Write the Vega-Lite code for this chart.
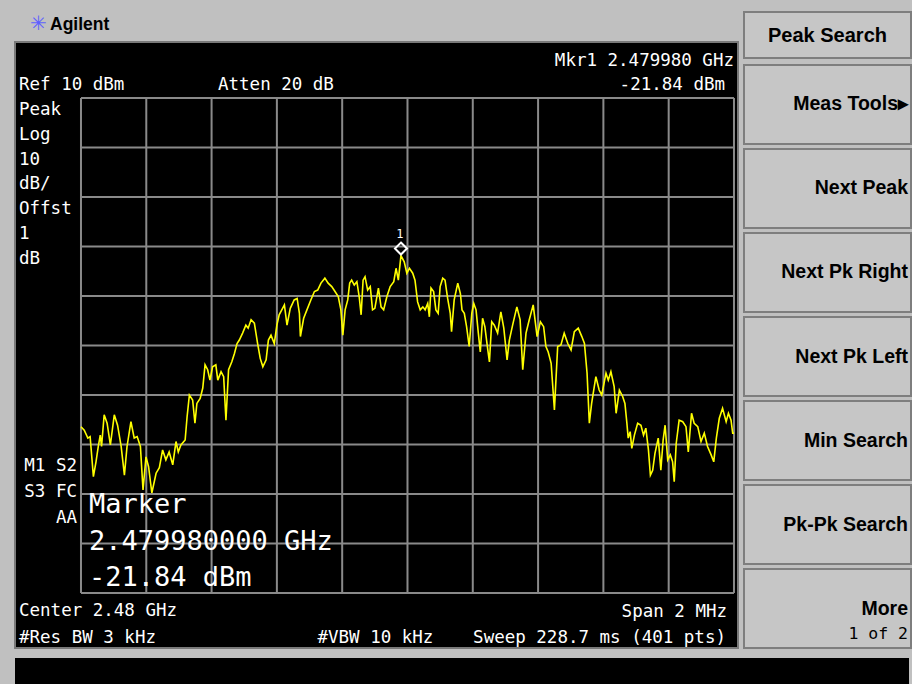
{
  "$schema": "https://vega.github.io/schema/vega-lite/v6.json",
  "background": "#c0c0c0",
  "padding": {"left": 14, "top": 11, "right": 0, "bottom": 0},
  "spacing": 9,
  "config": {"view": {"stroke": null}},
  "datasets": {
    "trace": [
      {"f": 2479.000, "dbm": -56.4}, {"f": 2479.010, "dbm": -57.1}, {"f": 2479.021, "dbm": -58.7}, {"f": 2479.028, "dbm": -58.4},
      {"f": 2479.038, "dbm": -66.5}, {"f": 2479.046, "dbm": -63.5}, {"f": 2479.053, "dbm": -60.4}, {"f": 2479.059, "dbm": -58.1},
      {"f": 2479.063, "dbm": -60.4}, {"f": 2479.071, "dbm": -54.0}, {"f": 2479.080, "dbm": -55.7}, {"f": 2479.090, "dbm": -60.1},
      {"f": 2479.102, "dbm": -54.0}, {"f": 2479.112, "dbm": -56.1}, {"f": 2479.123, "dbm": -60.4}, {"f": 2479.133, "dbm": -66.2},
      {"f": 2479.141, "dbm": -60.4}, {"f": 2479.153, "dbm": -55.4}, {"f": 2479.163, "dbm": -58.7}, {"f": 2479.172, "dbm": -58.4},
      {"f": 2479.182, "dbm": -60.4}, {"f": 2479.190, "dbm": -69.2}, {"f": 2479.199, "dbm": -62.5}, {"f": 2479.207, "dbm": -64.5},
      {"f": 2479.217, "dbm": -69.8}, {"f": 2479.230, "dbm": -65.8}, {"f": 2479.240, "dbm": -64.7}, {"f": 2479.250, "dbm": -61.1},
      {"f": 2479.260, "dbm": -63.1}, {"f": 2479.270, "dbm": -61.5}, {"f": 2479.281, "dbm": -64.1}, {"f": 2479.291, "dbm": -59.4},
      {"f": 2479.298, "dbm": -61.5}, {"f": 2479.306, "dbm": -60.1}, {"f": 2479.319, "dbm": -59.1}, {"f": 2479.325, "dbm": -54.4},
      {"f": 2479.332, "dbm": -50.0}, {"f": 2479.342, "dbm": -51.0}, {"f": 2479.349, "dbm": -55.7}, {"f": 2479.355, "dbm": -51.7},
      {"f": 2479.365, "dbm": -50.7}, {"f": 2479.373, "dbm": -48.6}, {"f": 2479.380, "dbm": -43.9}, {"f": 2479.388, "dbm": -44.9},
      {"f": 2479.395, "dbm": -47.0}, {"f": 2479.403, "dbm": -44.3}, {"f": 2479.413, "dbm": -43.9}, {"f": 2479.419, "dbm": -47.0},
      {"f": 2479.429, "dbm": -45.3}, {"f": 2479.437, "dbm": -46.3}, {"f": 2479.444, "dbm": -55.1}, {"f": 2479.452, "dbm": -44.9},
      {"f": 2479.462, "dbm": -43.3}, {"f": 2479.470, "dbm": -41.6}, {"f": 2479.478, "dbm": -39.6}, {"f": 2479.485, "dbm": -38.9},
      {"f": 2479.495, "dbm": -37.5}, {"f": 2479.505, "dbm": -35.9}, {"f": 2479.512, "dbm": -36.5}, {"f": 2479.521, "dbm": -34.8},
      {"f": 2479.531, "dbm": -35.5}, {"f": 2479.541, "dbm": -39.6}, {"f": 2479.549, "dbm": -42.6}, {"f": 2479.557, "dbm": -44.3},
      {"f": 2479.567, "dbm": -42.9}, {"f": 2479.574, "dbm": -38.9}, {"f": 2479.582, "dbm": -37.9}, {"f": 2479.592, "dbm": -39.6},
      {"f": 2479.600, "dbm": -35.9}, {"f": 2479.607, "dbm": -33.8}, {"f": 2479.615, "dbm": -32.8}, {"f": 2479.623, "dbm": -31.8},
      {"f": 2479.631, "dbm": -35.9}, {"f": 2479.641, "dbm": -32.5}, {"f": 2479.653, "dbm": -30.8}, {"f": 2479.662, "dbm": -30.5},
      {"f": 2479.669, "dbm": -33.5}, {"f": 2479.672, "dbm": -38.2}, {"f": 2479.682, "dbm": -34.5}, {"f": 2479.692, "dbm": -32.8},
      {"f": 2479.704, "dbm": -30.8}, {"f": 2479.715, "dbm": -29.1}, {"f": 2479.725, "dbm": -28.8}, {"f": 2479.735, "dbm": -27.4},
      {"f": 2479.747, "dbm": -26.4}, {"f": 2479.757, "dbm": -27.4}, {"f": 2479.768, "dbm": -28.1}, {"f": 2479.778, "dbm": -29.1},
      {"f": 2479.788, "dbm": -30.1}, {"f": 2479.796, "dbm": -32.8}, {"f": 2479.802, "dbm": -37.9}, {"f": 2479.809, "dbm": -32.8},
      {"f": 2479.817, "dbm": -30.8}, {"f": 2479.823, "dbm": -27.4}, {"f": 2479.829, "dbm": -26.8}, {"f": 2479.837, "dbm": -27.8},
      {"f": 2479.845, "dbm": -27.1}, {"f": 2479.852, "dbm": -30.1}, {"f": 2479.858, "dbm": -33.8}, {"f": 2479.864, "dbm": -26.8},
      {"f": 2479.870, "dbm": -26.1}, {"f": 2479.878, "dbm": -28.8}, {"f": 2479.886, "dbm": -28.1}, {"f": 2479.893, "dbm": -32.8},
      {"f": 2479.900, "dbm": -32.5}, {"f": 2479.911, "dbm": -28.4}, {"f": 2479.919, "dbm": -32.2}, {"f": 2479.927, "dbm": -32.8},
      {"f": 2479.937, "dbm": -30.1}, {"f": 2479.947, "dbm": -28.1}, {"f": 2479.958, "dbm": -27.1}, {"f": 2479.965, "dbm": -24.4},
      {"f": 2479.972, "dbm": -26.8}, {"f": 2479.980, "dbm": -21.84}, {"f": 2479.990, "dbm": -23.1}, {"f": 2479.998, "dbm": -25.4},
      {"f": 2480.006, "dbm": -24.4}, {"f": 2480.016, "dbm": -25.4}, {"f": 2480.023, "dbm": -26.8}, {"f": 2480.031, "dbm": -31.2},
      {"f": 2480.039, "dbm": -32.8}, {"f": 2480.047, "dbm": -32.2}, {"f": 2480.054, "dbm": -32.8}, {"f": 2480.062, "dbm": -31.5},
      {"f": 2480.067, "dbm": -34.2}, {"f": 2480.072, "dbm": -28.4}, {"f": 2480.080, "dbm": -29.1}, {"f": 2480.087, "dbm": -32.8},
      {"f": 2480.094, "dbm": -33.5}, {"f": 2480.100, "dbm": -28.1}, {"f": 2480.108, "dbm": -26.4}, {"f": 2480.115, "dbm": -26.8},
      {"f": 2480.123, "dbm": -30.5}, {"f": 2480.131, "dbm": -33.5}, {"f": 2480.135, "dbm": -37.2}, {"f": 2480.143, "dbm": -30.8},
      {"f": 2480.154, "dbm": -27.4}, {"f": 2480.162, "dbm": -29.5}, {"f": 2480.167, "dbm": -32.8}, {"f": 2480.174, "dbm": -33.5},
      {"f": 2480.181, "dbm": -36.2}, {"f": 2480.189, "dbm": -40.2}, {"f": 2480.197, "dbm": -33.5}, {"f": 2480.203, "dbm": -31.5},
      {"f": 2480.210, "dbm": -32.8}, {"f": 2480.217, "dbm": -37.5}, {"f": 2480.223, "dbm": -41.3}, {"f": 2480.230, "dbm": -34.5},
      {"f": 2480.237, "dbm": -36.2}, {"f": 2480.246, "dbm": -40.9}, {"f": 2480.251, "dbm": -43.3}, {"f": 2480.258, "dbm": -35.2},
      {"f": 2480.266, "dbm": -35.9}, {"f": 2480.276, "dbm": -37.5}, {"f": 2480.286, "dbm": -33.2}, {"f": 2480.295, "dbm": -36.5},
      {"f": 2480.305, "dbm": -42.9}, {"f": 2480.312, "dbm": -38.9}, {"f": 2480.322, "dbm": -35.9}, {"f": 2480.335, "dbm": -32.2},
      {"f": 2480.345, "dbm": -34.8}, {"f": 2480.353, "dbm": -44.9}, {"f": 2480.363, "dbm": -37.5}, {"f": 2480.373, "dbm": -34.8},
      {"f": 2480.385, "dbm": -31.8}, {"f": 2480.397, "dbm": -38.2}, {"f": 2480.407, "dbm": -35.2}, {"f": 2480.417, "dbm": -36.2},
      {"f": 2480.424, "dbm": -40.2}, {"f": 2480.431, "dbm": -41.3}, {"f": 2480.440, "dbm": -43.6}, {"f": 2480.450, "dbm": -53.0},
      {"f": 2480.460, "dbm": -40.2}, {"f": 2480.470, "dbm": -39.9}, {"f": 2480.480, "dbm": -37.5}, {"f": 2480.491, "dbm": -39.6},
      {"f": 2480.501, "dbm": -40.9}, {"f": 2480.511, "dbm": -37.2}, {"f": 2480.523, "dbm": -36.5}, {"f": 2480.534, "dbm": -38.2},
      {"f": 2480.542, "dbm": -39.6}, {"f": 2480.550, "dbm": -45.6}, {"f": 2480.557, "dbm": -55.7}, {"f": 2480.564, "dbm": -51.7},
      {"f": 2480.577, "dbm": -46.3}, {"f": 2480.587, "dbm": -49.0}, {"f": 2480.595, "dbm": -50.0}, {"f": 2480.608, "dbm": -45.6},
      {"f": 2480.615, "dbm": -47.0}, {"f": 2480.623, "dbm": -45.3}, {"f": 2480.633, "dbm": -48.3}, {"f": 2480.639, "dbm": -53.7},
      {"f": 2480.649, "dbm": -49.0}, {"f": 2480.659, "dbm": -50.3}, {"f": 2480.666, "dbm": -51.7}, {"f": 2480.672, "dbm": -55.7},
      {"f": 2480.676, "dbm": -58.7}, {"f": 2480.682, "dbm": -57.4}, {"f": 2480.687, "dbm": -60.8}, {"f": 2480.695, "dbm": -58.1},
      {"f": 2480.705, "dbm": -55.7}, {"f": 2480.715, "dbm": -56.1}, {"f": 2480.723, "dbm": -58.1}, {"f": 2480.730, "dbm": -56.7},
      {"f": 2480.738, "dbm": -61.1}, {"f": 2480.744, "dbm": -66.2}, {"f": 2480.751, "dbm": -65.2}, {"f": 2480.758, "dbm": -61.8},
      {"f": 2480.768, "dbm": -58.7}, {"f": 2480.776, "dbm": -65.2}, {"f": 2480.783, "dbm": -59.1}, {"f": 2480.789, "dbm": -56.1},
      {"f": 2480.797, "dbm": -63.1}, {"f": 2480.805, "dbm": -62.1}, {"f": 2480.812, "dbm": -63.5}, {"f": 2480.817, "dbm": -67.5},
      {"f": 2480.823, "dbm": -59.8}, {"f": 2480.832, "dbm": -55.1}, {"f": 2480.843, "dbm": -55.4}, {"f": 2480.853, "dbm": -56.4},
      {"f": 2480.860, "dbm": -61.5}, {"f": 2480.870, "dbm": -53.7}, {"f": 2480.878, "dbm": -55.7}, {"f": 2480.889, "dbm": -56.4},
      {"f": 2480.899, "dbm": -59.4}, {"f": 2480.909, "dbm": -57.7}, {"f": 2480.919, "dbm": -60.4}, {"f": 2480.930, "dbm": -62.1},
      {"f": 2480.938, "dbm": -63.5}, {"f": 2480.946, "dbm": -58.7}, {"f": 2480.955, "dbm": -54.7}, {"f": 2480.965, "dbm": -52.7},
      {"f": 2480.976, "dbm": -55.4}, {"f": 2480.983, "dbm": -53.7}, {"f": 2480.991, "dbm": -55.1}, {"f": 2480.996, "dbm": -57.7},
      {"f": 2481.000, "dbm": -57.7}
    ],
    "vgrid": [{"f": 2479.0}, {"f": 2479.2}, {"f": 2479.4}, {"f": 2479.6}, {"f": 2479.8}, {"f": 2480.0}, {"f": 2480.2}, {"f": 2480.4}, {"f": 2480.6}, {"f": 2480.8}, {"f": 2481.0}],
    "hgrid": [{"dbm": 10}, {"dbm": 0}, {"dbm": -10}, {"dbm": -20}, {"dbm": -30}, {"dbm": -40}, {"dbm": -50}, {"dbm": -60}, {"dbm": -70}, {"dbm": -80}, {"dbm": -90}],
    "marker": [{"f": 2479.98, "dbm": -21.84, "id": "1"}],
    "header": [{"label": "Peak Search"}],
    "softkeys": [
      {"label": "Meas Tools▸", "sub": ""},
      {"label": "Next Peak", "sub": ""},
      {"label": "Next Pk Right", "sub": ""},
      {"label": "Next Pk Left", "sub": ""},
      {"label": "Min Search", "sub": ""},
      {"label": "Pk-Pk Search", "sub": ""},
      {"label": "More\n", "sub": "\n1 of 2"}
    ]
  },
  "vconcat": [
    {
      "spacing": 4,
      "hconcat": [
        {
          "width": 723,
          "height": 606,
          "view": {"fill": "#000000", "stroke": "#7a7a7a", "strokeWidth": 2},
          "title": {"text": "Agilent", "anchor": "start", "frame": "group", "dx": 35, "offset": -20, "font": "Liberation Sans", "fontSize": 17.5, "fontWeight": "bold", "color": "#000000"},
          "layer": [
            {
              "data": {"name": "vgrid"},
              "mark": {"type": "rule", "color": "#8a8a8a", "strokeWidth": 2},
              "encoding": {
                "x": {"field": "f", "type": "quantitative", "axis": null, "scale": {"domain": [2478.7979, 2481.0123], "nice": false, "zero": false}},
                "y": {"datum": -90, "type": "quantitative", "axis": null, "scale": {"domain": [-101.11, 21.31], "nice": false, "zero": false}},
                "y2": {"datum": 10}
              }
            },
            {
              "data": {"name": "hgrid"},
              "mark": {"type": "rule", "color": "#8a8a8a", "strokeWidth": 2},
              "encoding": {
                "y": {"field": "dbm", "type": "quantitative"},
                "x": {"datum": 2479},
                "x2": {"datum": 2481}
              }
            },
            {
              "data": {"name": "trace"},
              "mark": {"type": "line", "color": "#ffff00", "strokeWidth": 1.6, "clip": true},
              "encoding": {
                "x": {"field": "f", "type": "quantitative"},
                "y": {"field": "dbm", "type": "quantitative"}
              }
            },
            {
              "data": {"name": "marker"},
              "mark": {"type": "point", "shape": "M0,-2.17L1,-1.17L0,-0.17L-1,-1.17Z", "size": 144, "filled": false, "color": "#ffffff", "strokeWidth": 2, "opacity": 1},
              "encoding": {
                "x": {"field": "f", "type": "quantitative"},
                "y": {"field": "dbm", "type": "quantitative"}
              }
            },
            {
              "data": {"name": "marker"},
              "mark": {"type": "text", "font": "DejaVu Sans Mono", "fontSize": 12, "color": "#ffffff", "dx": -1, "dy": -18, "baseline": "alphabetic"},
              "encoding": {
                "x": {"field": "f", "type": "quantitative"},
                "y": {"field": "dbm", "type": "quantitative"},
                "text": {"field": "id"}
              }
            },
            {
              "data": {"values": [{"t": "✳"}]},
              "mark": {"type": "text", "fontSize": 20, "color": "#5f5fff", "align": "center", "baseline": "middle", "dx": -42, "dy": -74},
              "encoding": {"x": {"datum": 2479}, "y": {"datum": 10}, "text": {"field": "t"}}
            },
            {
              "data": {"values": [{"t": "Ref 10 dBm"}]},
              "mark": {"type": "text", "font": "DejaVu Sans Mono", "fontSize": 17.5, "color": "#ffffff", "align": "left", "baseline": "alphabetic", "dx": -62, "dy": -8},
              "encoding": {"x": {"datum": 2479}, "y": {"datum": 10}, "text": {"field": "t"}}
            },
            {
              "data": {"values": [{"t": "Atten 20 dB"}]},
              "mark": {"type": "text", "font": "DejaVu Sans Mono", "fontSize": 17.5, "color": "#ffffff", "align": "left", "baseline": "alphabetic", "dx": 137, "dy": -8},
              "encoding": {"x": {"datum": 2479}, "y": {"datum": 10}, "text": {"field": "t"}}
            },
            {
              "data": {"values": [{"t": "Mkr1  2.479980 GHz"}]},
              "mark": {"type": "text", "font": "DejaVu Sans Mono", "fontSize": 17.5, "color": "#ffffff", "align": "right", "baseline": "alphabetic", "dx": 0, "dy": -32},
              "encoding": {"x": {"datum": 2481}, "y": {"datum": 10}, "text": {"field": "t"}}
            },
            {
              "data": {"values": [{"t": "-21.84 dBm"}]},
              "mark": {"type": "text", "font": "DejaVu Sans Mono", "fontSize": 17.5, "color": "#ffffff", "align": "right", "baseline": "alphabetic", "dx": -9, "dy": -8},
              "encoding": {"x": {"datum": 2481}, "y": {"datum": 10}, "text": {"field": "t"}}
            },
            {
              "data": {"values": [{"t": "Peak\nLog\n10\ndB/\nOffst\n1\ndB"}]},
              "mark": {"type": "text", "font": "DejaVu Sans Mono", "fontSize": 17.5, "color": "#ffffff", "align": "left", "baseline": "alphabetic", "dx": -62, "dy": 17, "lineBreak": "\n", "lineHeight": 24.8},
              "encoding": {"x": {"datum": 2479}, "y": {"datum": 10}, "text": {"field": "t"}}
            },
            {
              "data": {"values": [{"t": "M1 S2\nS3 FC\nAA"}]},
              "mark": {"type": "text", "font": "DejaVu Sans Mono", "fontSize": 17.5, "color": "#ffffff", "align": "right", "baseline": "alphabetic", "dx": -4, "dy": 27, "lineBreak": "\n", "lineHeight": 26},
              "encoding": {"x": {"datum": 2479}, "y": {"datum": -60}, "text": {"field": "t"}}
            },
            {
              "data": {"values": [{"t": "Marker\n2.479980000 GHz\n-21.84 dBm"}]},
              "mark": {"type": "text", "font": "DejaVu Sans Mono", "fontSize": 27, "color": "#ffffff", "align": "left", "baseline": "alphabetic", "dx": 8, "dy": -80, "lineBreak": "\n", "lineHeight": 36.5},
              "encoding": {"x": {"datum": 2479}, "y": {"datum": -90}, "text": {"field": "t"}}
            },
            {
              "data": {"values": [{"t": "Center 2.48 GHz\n#Res BW 3 kHz"}]},
              "mark": {"type": "text", "font": "DejaVu Sans Mono", "fontSize": 17.5, "color": "#ffffff", "align": "left", "baseline": "alphabetic", "dx": -62, "dy": 23, "lineBreak": "\n", "lineHeight": 27},
              "encoding": {"x": {"datum": 2479}, "y": {"datum": -90}, "text": {"field": "t"}}
            },
            {
              "data": {"values": [{"t": "#VBW 10 kHz"}]},
              "mark": {"type": "text", "font": "DejaVu Sans Mono", "fontSize": 17.5, "color": "#ffffff", "align": "left", "baseline": "alphabetic", "dx": -90, "dy": 50},
              "encoding": {"x": {"datum": 2480}, "y": {"datum": -90}, "text": {"field": "t"}}
            },
            {
              "data": {"values": [{"t": "Span 2 MHz"}]},
              "mark": {"type": "text", "font": "DejaVu Sans Mono", "fontSize": 17.5, "color": "#ffffff", "align": "right", "baseline": "alphabetic", "dx": -7, "dy": 24},
              "encoding": {"x": {"datum": 2481}, "y": {"datum": -90}, "text": {"field": "t"}}
            },
            {
              "data": {"values": [{"t": "Sweep 228.7 ms (401 pts)"}]},
              "mark": {"type": "text", "font": "DejaVu Sans Mono", "fontSize": 17.5, "color": "#ffffff", "align": "right", "baseline": "alphabetic", "dx": -8, "dy": 50},
              "encoding": {"x": {"datum": 2481}, "y": {"datum": -90}, "text": {"field": "t"}}
            }
          ]
        },
        {
          "width": 167,
          "height": 606,
          "view": {"fill": null, "stroke": null},
          "resolve": {"scale": {"y": "independent"}},
          "layer": [
            {
              "data": {"name": "header"},
              "encoding": {
                "y": {"field": "label", "type": "nominal", "axis": null, "scale": {"range": [-30, 16], "paddingInner": 0, "paddingOuter": 0}}
              },
              "layer": [
                {"mark": {"type": "rect", "fill": "#c6c6c6", "stroke": "#7e7e7e", "strokeWidth": 2}},
                {
                  "mark": {"type": "text", "font": "Liberation Sans", "fontSize": 20, "fontWeight": "bold", "color": "#000000", "align": "center", "baseline": "middle", "dy": 1},
                  "encoding": {"text": {"field": "label"}}
                }
              ]
            },
            {
              "data": {"name": "softkeys"},
              "encoding": {
                "y": {"field": "label", "type": "nominal", "sort": null, "axis": null, "scale": {"range": [23, 606], "paddingInner": 0.06, "paddingOuter": 0}}
              },
              "layer": [
                {"mark": {"type": "rect", "fill": "#c6c6c6", "stroke": "#7e7e7e", "strokeWidth": 2}},
                {
                  "mark": {"type": "text", "font": "Liberation Sans", "fontSize": 19.5, "fontWeight": "bold", "color": "#000000", "align": "right", "baseline": "middle", "dx": -3, "lineBreak": "\n", "lineHeight": 25},
                  "encoding": {"x": {"value": "width"}, "text": {"field": "label"}}
                },
                {
                  "mark": {"type": "text", "font": "DejaVu Sans Mono", "fontSize": 16.5, "color": "#000000", "align": "right", "baseline": "middle", "dx": -3, "lineBreak": "\n", "lineHeight": 25},
                  "encoding": {"x": {"value": "width"}, "text": {"field": "sub"}}
                }
              ]
            }
          ]
        }
      ]
    },
    {
      "width": 894,
      "height": 27,
      "view": {"fill": "#000000", "stroke": null},
      "data": {"values": [{"msg": ""}]},
      "mark": {"type": "text", "color": "#ffffff"},
      "encoding": {"text": {"field": "msg"}}
    }
  ]
}
